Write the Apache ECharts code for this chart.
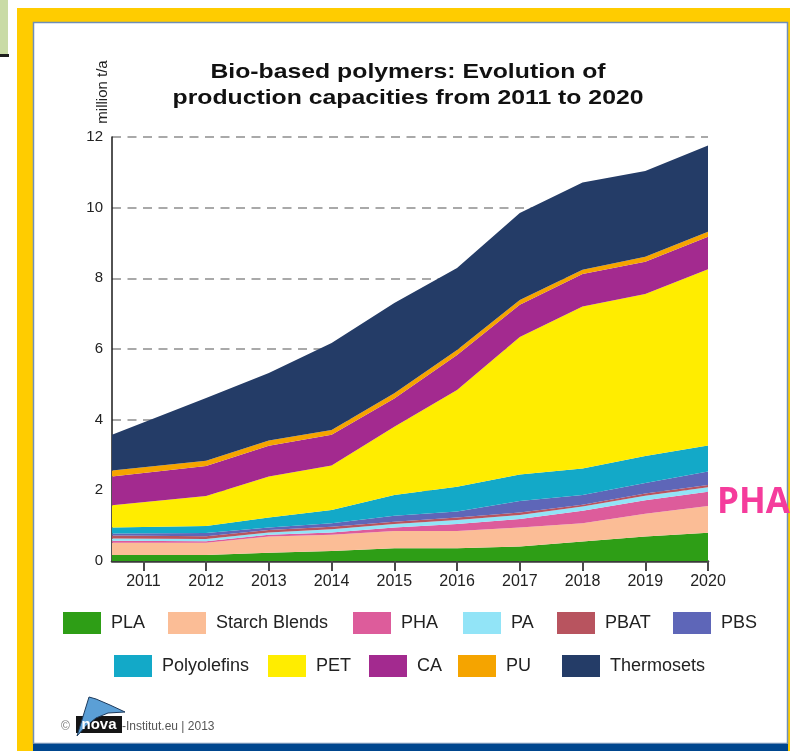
<!DOCTYPE html>
<html>
<head>
<meta charset="utf-8">
<script src="https://cdn.jsdelivr.net/npm/echarts@6/dist/echarts.min.js"></script>
<style>
  html, body { margin: 0; padding: 0; background: #ffffff; }
  #chart { width: 790px; height: 751px; }
</style>
</head>
<body>
<div id="chart"></div>
<script>
// Production capacity of bio-based polymers, million t/a, stacked from the bottom up
const years = [2011, 2012, 2013, 2014, 2015, 2016, 2017, 2018, 2019, 2020];
const yTicks = [0, 2, 4, 6, 8, 10, 12];

const PLA          = [0.17, 0.17, 0.23, 0.28, 0.36, 0.36, 0.41, 0.55, 0.69, 0.80];
const StarchBlends = [0.35, 0.35, 0.46, 0.46, 0.49, 0.49, 0.54, 0.52, 0.65, 0.76];
const PHA          = [0.05, 0.04, 0.05, 0.07, 0.10, 0.20, 0.24, 0.35, 0.38, 0.40];
const PA           = [0.07, 0.06, 0.07, 0.09, 0.10, 0.11, 0.11, 0.12, 0.13, 0.13];
const PBAT         = [0.08, 0.08, 0.07, 0.07, 0.06, 0.07, 0.07, 0.05, 0.06, 0.06];
const PBS          = [0.06, 0.09, 0.07, 0.10, 0.17, 0.17, 0.33, 0.28, 0.30, 0.38];
const Polyolefins  = [0.17, 0.20, 0.28, 0.37, 0.59, 0.70, 0.75, 0.75, 0.76, 0.74];
const PET          = [0.63, 0.85, 1.16, 1.26, 1.93, 2.74, 3.89, 4.58, 4.59, 4.99];
const CA           = [0.81, 0.85, 0.87, 0.87, 0.80, 0.99, 0.91, 0.92, 0.91, 0.92];
const PU           = [0.17, 0.15, 0.15, 0.14, 0.15, 0.14, 0.14, 0.12, 0.14, 0.14];
const Thermosets   = [1.01, 1.77, 1.91, 2.46, 2.55, 2.32, 2.46, 2.47, 2.43, 2.44];

const seriesNames = ['PLA', 'Starch Blends', 'PHA', 'PA', 'PBAT', 'PBS',
                     'Polyolefins', 'PET', 'CA', 'PU', 'Thermosets'];
const seriesValues = [PLA, StarchBlends, PHA, PA, PBAT, PBS,
                      Polyolefins, PET, CA, PU, Thermosets];
const seriesColors = ['#2e9e16', '#fbbd96', '#dd5c9b', '#92e4f7', '#b8545f', '#5e66b8',
                      '#13a9c8', '#ffed00', '#a32a8f', '#f5a400', '#243c67'];

// The plot starts half a year before 2011; the first year's figure sits on that edge
const xStart = 2010.5;
const xEnd = 2020;

// Legend layout: two rows, one legend box per entry
const legendRows = [
  { top: 612, items: [['PLA', 63], ['Starch Blends', 168], ['PHA', 353], ['PA', 463], ['PBAT', 557], ['PBS', 673]] },
  { top: 655, items: [['Polyolefins', 114], ['PET', 268], ['CA', 369], ['PU', 458], ['Thermosets', 562]] }
];

const FONT = 'Liberation Sans, Arial, sans-serif';

const legends = [];
legendRows.forEach(row => {
  row.items.forEach(([name, left]) => {
    legends.push({
      data: [name],
      left: left,
      top: row.top,
      padding: 0,
      itemWidth: 38,
      itemHeight: 22,
      icon: 'rect',
      selectedMode: false,
      itemStyle: { borderWidth: 0 },
      textStyle: { fontFamily: FONT, fontSize: 18, color: '#222', padding: [0, 0, 0, 5] }
    });
  });
});

// Each row is [capacity, year]; the capacity column comes first so the stack adds up capacities
const series = seriesNames.map((name, i) => {
  const s = {
    name: name,
    type: 'line',
    stack: 'capacity',
    symbol: 'none',
    smooth: false,
    dimensions: [{ name: 'capacity', type: 'number' }, { name: 'year', type: 'number' }],
    encode: { x: 1, y: 0 },
    lineStyle: { width: 0 },
    itemStyle: { color: seriesColors[i] },
    areaStyle: { color: seriesColors[i], opacity: 1 },
    data: years.map((yr, k) => [seriesValues[i][k], k === 0 ? xStart : yr]),
    z: 2
  };
  if (name === 'PHA') {
    s.endLabel = {
      show: true,
      formatter: 'PHA',
      color: '#f53c9c',
      fontFamily: 'Open Sans, Noto Sans, sans-serif',
      fontWeight: 'bold',
      fontSize: 35,
      distance: 9,
      offset: [0, 11]
    };
  }
  return s;
});

const chart = echarts.init(document.getElementById('chart'), null, { renderer: 'canvas' });

chart.setOption({
  animation: false,
  backgroundColor: '#ffffff',
  grid: { left: 112, right: 82, top: 137, bottom: 190, containLabel: false },
  xAxis: {
    type: 'value',
    min: xStart,
    max: xEnd,
    axisLine: { show: true, onZero: false, lineStyle: { color: '#3a3a3a', width: 2.5 } },
    axisTick: { show: true, customValues: years, length: 10, lineStyle: { color: '#4a4a4a', width: 2 } },
    axisLabel: { customValues: years, formatter: v => String(v), fontFamily: FONT, fontSize: 16, color: '#222', margin: 13 },
    splitLine: { show: false }
  },
  yAxis: {
    type: 'value',
    min: 0,
    max: 12,
    interval: 2,
    axisLine: { show: true, lineStyle: { color: '#1a1a1a', width: 1.5 } },
    axisTick: { show: false },
    axisLabel: {
      fontFamily: FONT, fontSize: 15, color: '#222', margin: 9,
      formatter: v => (yTicks.indexOf(v) >= 0 ? String(v) : '')
    },
    splitLine: { show: true, lineStyle: { color: '#a9a9a9', width: 2, type: [9, 6.5] } }
  },
  legend: legends,
  series: series,
  graphic: [
    // small tab in the top-left corner
    { type: 'rect', shape: { x: 0, y: 0, width: 8, height: 54 }, style: { fill: '#c9dba6' }, silent: true },
    { type: 'rect', shape: { x: 0, y: 54, width: 9, height: 3 }, style: { fill: '#1e1e1e' }, silent: true },
    // yellow frame
    { type: 'rect', shape: { x: 17, y: 8, width: 773, height: 14 }, style: { fill: '#ffcc00' }, silent: true },
    { type: 'rect', shape: { x: 17, y: 8, width: 16, height: 743 }, style: { fill: '#ffcc00' }, silent: true },
    { type: 'rect', shape: { x: 788, y: 8, width: 2, height: 743 }, style: { fill: '#ffcc00' }, silent: true },
    // panel outline and blue bottom band
    { type: 'rect', shape: { x: 33.5, y: 22.5, width: 754, height: 721 }, style: { fill: null, stroke: '#6f8fb6', lineWidth: 1.5 }, silent: true },
    { type: 'rect', shape: { x: 33, y: 744, width: 755, height: 7 }, style: { fill: '#00468e' }, silent: true },
    // title
    { type: 'text', x: 408, y: 72, scaleX: 1.18, style: { text: 'Bio-based polymers: Evolution of', font: 'bold 21px ' + FONT, fill: '#111', textAlign: 'center', textVerticalAlign: 'middle' }, silent: true },
    { type: 'text', x: 408, y: 98, scaleX: 1.18, style: { text: 'production capacities from 2011 to 2020', font: 'bold 21px ' + FONT, fill: '#111', textAlign: 'center', textVerticalAlign: 'middle' }, silent: true },
    // unit label
    { type: 'text', x: 103, y: 92, rotation: Math.PI / 2, style: { text: 'million t/a', font: '15px ' + FONT, fill: '#222', textAlign: 'center', textVerticalAlign: 'middle' }, silent: true },
    // footer credit
    { type: 'text', x: 61, y: 727, style: { text: '©', font: '12px ' + FONT, fill: '#777', textVerticalAlign: 'middle' }, silent: true },
    { type: 'rect', shape: { x: 76, y: 716, width: 46, height: 17 }, style: { fill: '#151515' }, silent: true },
    { type: 'polygon', shape: { points: [[77, 736], [89, 697], [96, 699], [110, 705], [125, 712], [108, 713], [96, 718], [86, 726]] }, style: { fill: '#5b9fd6', stroke: '#1d3a5c', lineWidth: 1 }, silent: true },
    { type: 'text', x: 99, y: 725, style: { text: 'nova', font: 'bold 15px ' + FONT, fill: '#ffffff', textAlign: 'center', textVerticalAlign: 'middle' }, silent: true },
    { type: 'text', x: 122, y: 727, style: { text: '-Institut.eu | 2013', font: '12px ' + FONT, fill: '#555', textVerticalAlign: 'middle' }, silent: true }
  ]
});
</script>
</body>
</html>
